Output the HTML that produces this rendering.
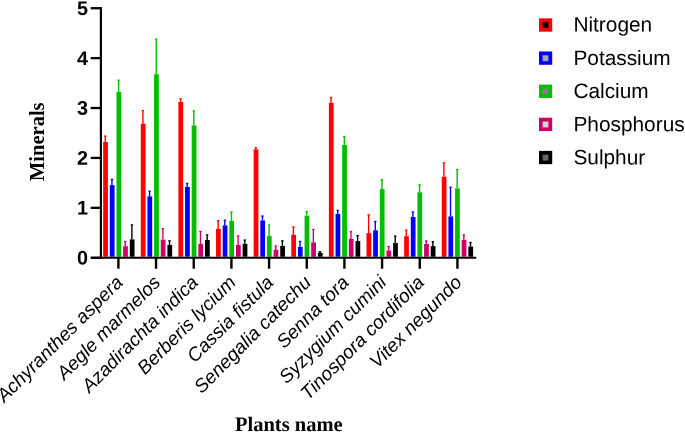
<!DOCTYPE html>
<html><head><meta charset="utf-8"><title>Minerals chart</title>
<style>
html,body{margin:0;padding:0;background:#fff;overflow:hidden;}
svg{display:block;}
text{font-family:"Liberation Sans",Arial,sans-serif;fill:#000;}
.num{font-weight:bold;font-size:19.8px;text-anchor:end;}
.lab{font-style:italic;font-size:19px;text-anchor:end;}
.leg{font-size:20.85px;}
.ttl{font-family:"Liberation Serif","Times New Roman",serif;font-weight:bold;font-size:20.5px;text-anchor:middle;}
</style></head><body>
<svg width="685" height="433" viewBox="0 0 685 433">
<rect width="685" height="433" fill="#fff"/>

<rect x="103.17" y="142.00" width="4.75" height="114.73" fill="#ff0000"/>
<path d="M105.30 142.00V136.10" stroke="#ff0000" stroke-width="1.4" fill="none"/>
<path d="M104.10 136.10H106.50" stroke="#ff0000" stroke-width="1.3" fill="none"/>
<rect x="109.82" y="185.10" width="4.75" height="71.63" fill="#0000ff"/>
<path d="M111.95 185.10V179.40" stroke="#0000ff" stroke-width="1.4" fill="none"/>
<path d="M110.75 179.40H113.15" stroke="#0000ff" stroke-width="1.3" fill="none"/>
<rect x="116.47" y="92.00" width="4.75" height="164.73" fill="#00bf00"/>
<path d="M118.60 92.00V80.20" stroke="#00bf00" stroke-width="1.4" fill="none"/>
<path d="M117.40 80.20H119.80" stroke="#00bf00" stroke-width="1.3" fill="none"/>
<rect x="123.12" y="246.20" width="4.75" height="10.53" fill="#cc0066"/>
<path d="M125.25 246.20V241.50" stroke="#cc0066" stroke-width="1.4" fill="none"/>
<path d="M124.05 241.50H126.45" stroke="#cc0066" stroke-width="1.3" fill="none"/>
<rect x="129.78" y="239.40" width="4.75" height="17.33" fill="#000000"/>
<path d="M131.90 239.40V224.90" stroke="#000000" stroke-width="1.4" fill="none"/>
<path d="M130.70 224.90H133.10" stroke="#000000" stroke-width="1.3" fill="none"/>
<rect x="140.79" y="123.70" width="4.75" height="133.03" fill="#ff0000"/>
<path d="M142.92 123.70V110.50" stroke="#ff0000" stroke-width="1.4" fill="none"/>
<path d="M141.72 110.50H144.12" stroke="#ff0000" stroke-width="1.3" fill="none"/>
<rect x="147.44" y="196.40" width="4.75" height="60.33" fill="#0000ff"/>
<path d="M149.57 196.40V191.20" stroke="#0000ff" stroke-width="1.4" fill="none"/>
<path d="M148.37 191.20H150.77" stroke="#0000ff" stroke-width="1.3" fill="none"/>
<rect x="154.09" y="74.20" width="4.75" height="182.53" fill="#00bf00"/>
<path d="M156.22 74.20V39.10" stroke="#00bf00" stroke-width="1.4" fill="none"/>
<path d="M155.02 39.10H157.42" stroke="#00bf00" stroke-width="1.3" fill="none"/>
<rect x="160.75" y="239.60" width="4.75" height="17.13" fill="#cc0066"/>
<path d="M162.87 239.60V228.60" stroke="#cc0066" stroke-width="1.4" fill="none"/>
<path d="M161.67 228.60H164.07" stroke="#cc0066" stroke-width="1.3" fill="none"/>
<rect x="167.40" y="245.00" width="4.75" height="11.73" fill="#000000"/>
<path d="M169.52 245.00V240.80" stroke="#000000" stroke-width="1.4" fill="none"/>
<path d="M168.32 240.80H170.72" stroke="#000000" stroke-width="1.3" fill="none"/>
<rect x="178.41" y="101.90" width="4.75" height="154.83" fill="#ff0000"/>
<path d="M180.54 101.90V98.90" stroke="#ff0000" stroke-width="1.4" fill="none"/>
<path d="M179.34 98.90H181.74" stroke="#ff0000" stroke-width="1.3" fill="none"/>
<rect x="185.06" y="186.90" width="4.75" height="69.83" fill="#0000ff"/>
<path d="M187.19 186.90V183.50" stroke="#0000ff" stroke-width="1.4" fill="none"/>
<path d="M185.99 183.50H188.39" stroke="#0000ff" stroke-width="1.3" fill="none"/>
<rect x="191.71" y="125.40" width="4.75" height="131.33" fill="#00bf00"/>
<path d="M193.84 125.40V110.90" stroke="#00bf00" stroke-width="1.4" fill="none"/>
<path d="M192.64 110.90H195.04" stroke="#00bf00" stroke-width="1.3" fill="none"/>
<rect x="198.36" y="243.80" width="4.75" height="12.93" fill="#cc0066"/>
<path d="M200.49 243.80V231.40" stroke="#cc0066" stroke-width="1.4" fill="none"/>
<path d="M199.29 231.40H201.69" stroke="#cc0066" stroke-width="1.3" fill="none"/>
<rect x="205.01" y="240.00" width="4.75" height="16.73" fill="#000000"/>
<path d="M207.14 240.00V234.90" stroke="#000000" stroke-width="1.4" fill="none"/>
<path d="M205.94 234.90H208.34" stroke="#000000" stroke-width="1.3" fill="none"/>
<rect x="216.03" y="228.90" width="4.75" height="27.83" fill="#ff0000"/>
<path d="M218.16 228.90V220.70" stroke="#ff0000" stroke-width="1.4" fill="none"/>
<path d="M216.96 220.70H219.36" stroke="#ff0000" stroke-width="1.3" fill="none"/>
<rect x="222.68" y="225.40" width="4.75" height="31.33" fill="#0000ff"/>
<path d="M224.81 225.40V220.20" stroke="#0000ff" stroke-width="1.4" fill="none"/>
<path d="M223.61 220.20H226.01" stroke="#0000ff" stroke-width="1.3" fill="none"/>
<rect x="229.33" y="220.90" width="4.75" height="35.83" fill="#00bf00"/>
<path d="M231.46 220.90V212.00" stroke="#00bf00" stroke-width="1.4" fill="none"/>
<path d="M230.26 212.00H232.66" stroke="#00bf00" stroke-width="1.3" fill="none"/>
<rect x="235.98" y="245.00" width="4.75" height="11.73" fill="#cc0066"/>
<path d="M238.11 245.00V235.90" stroke="#cc0066" stroke-width="1.4" fill="none"/>
<path d="M236.91 235.90H239.31" stroke="#cc0066" stroke-width="1.3" fill="none"/>
<rect x="242.63" y="243.80" width="4.75" height="12.93" fill="#000000"/>
<path d="M244.76 243.80V240.10" stroke="#000000" stroke-width="1.4" fill="none"/>
<path d="M243.56 240.10H245.96" stroke="#000000" stroke-width="1.3" fill="none"/>
<rect x="253.65" y="149.40" width="4.75" height="107.33" fill="#ff0000"/>
<path d="M255.78 149.40V147.70" stroke="#ff0000" stroke-width="1.4" fill="none"/>
<path d="M254.58 147.70H256.98" stroke="#ff0000" stroke-width="1.3" fill="none"/>
<rect x="260.31" y="220.50" width="4.75" height="36.23" fill="#0000ff"/>
<path d="M262.43 220.50V216.00" stroke="#0000ff" stroke-width="1.4" fill="none"/>
<path d="M261.23 216.00H263.63" stroke="#0000ff" stroke-width="1.3" fill="none"/>
<rect x="266.95" y="236.10" width="4.75" height="20.63" fill="#00bf00"/>
<path d="M269.08 236.10V224.90" stroke="#00bf00" stroke-width="1.4" fill="none"/>
<path d="M267.88 224.90H270.28" stroke="#00bf00" stroke-width="1.3" fill="none"/>
<rect x="273.60" y="249.70" width="4.75" height="7.03" fill="#cc0066"/>
<path d="M275.73 249.70V245.90" stroke="#cc0066" stroke-width="1.4" fill="none"/>
<path d="M274.53 245.90H276.93" stroke="#cc0066" stroke-width="1.3" fill="none"/>
<rect x="280.25" y="245.90" width="4.75" height="10.83" fill="#000000"/>
<path d="M282.38 245.90V240.80" stroke="#000000" stroke-width="1.4" fill="none"/>
<path d="M281.18 240.80H283.58" stroke="#000000" stroke-width="1.3" fill="none"/>
<rect x="291.27" y="234.70" width="4.75" height="22.03" fill="#ff0000"/>
<path d="M293.40 234.70V227.00" stroke="#ff0000" stroke-width="1.4" fill="none"/>
<path d="M292.20 227.00H294.60" stroke="#ff0000" stroke-width="1.3" fill="none"/>
<rect x="297.93" y="246.90" width="4.75" height="9.83" fill="#0000ff"/>
<path d="M300.05 246.90V241.50" stroke="#0000ff" stroke-width="1.4" fill="none"/>
<path d="M298.85 241.50H301.25" stroke="#0000ff" stroke-width="1.3" fill="none"/>
<rect x="304.57" y="215.60" width="4.75" height="41.13" fill="#00bf00"/>
<path d="M306.70 215.60V211.60" stroke="#00bf00" stroke-width="1.4" fill="none"/>
<path d="M305.50 211.60H307.90" stroke="#00bf00" stroke-width="1.3" fill="none"/>
<rect x="311.22" y="242.40" width="4.75" height="14.33" fill="#cc0066"/>
<path d="M313.35 242.40V229.50" stroke="#cc0066" stroke-width="1.4" fill="none"/>
<path d="M312.15 229.50H314.55" stroke="#cc0066" stroke-width="1.3" fill="none"/>
<rect x="317.88" y="252.70" width="4.75" height="4.03" fill="#000000"/>
<path d="M320.00 252.70V251.70" stroke="#000000" stroke-width="1.4" fill="none"/>
<path d="M318.80 251.70H321.20" stroke="#000000" stroke-width="1.3" fill="none"/>
<rect x="328.89" y="102.70" width="4.75" height="154.03" fill="#ff0000"/>
<path d="M331.02 102.70V97.50" stroke="#ff0000" stroke-width="1.4" fill="none"/>
<path d="M329.82 97.50H332.22" stroke="#ff0000" stroke-width="1.3" fill="none"/>
<rect x="335.54" y="213.90" width="4.75" height="42.83" fill="#0000ff"/>
<path d="M337.67 213.90V210.40" stroke="#0000ff" stroke-width="1.4" fill="none"/>
<path d="M336.47 210.40H338.87" stroke="#0000ff" stroke-width="1.3" fill="none"/>
<rect x="342.19" y="145.00" width="4.75" height="111.73" fill="#00bf00"/>
<path d="M344.32 145.00V136.50" stroke="#00bf00" stroke-width="1.4" fill="none"/>
<path d="M343.12 136.50H345.52" stroke="#00bf00" stroke-width="1.3" fill="none"/>
<rect x="348.84" y="238.90" width="4.75" height="17.83" fill="#cc0066"/>
<path d="M350.97 238.90V231.60" stroke="#cc0066" stroke-width="1.4" fill="none"/>
<path d="M349.77 231.60H352.17" stroke="#cc0066" stroke-width="1.3" fill="none"/>
<rect x="355.49" y="241.00" width="4.75" height="15.73" fill="#000000"/>
<path d="M357.62 241.00V235.60" stroke="#000000" stroke-width="1.4" fill="none"/>
<path d="M356.42 235.60H358.82" stroke="#000000" stroke-width="1.3" fill="none"/>
<rect x="366.51" y="233.10" width="4.75" height="23.63" fill="#ff0000"/>
<path d="M368.64 233.10V214.90" stroke="#ff0000" stroke-width="1.4" fill="none"/>
<path d="M367.44 214.90H369.84" stroke="#ff0000" stroke-width="1.3" fill="none"/>
<rect x="373.16" y="230.30" width="4.75" height="26.43" fill="#0000ff"/>
<path d="M375.29 230.30V221.50" stroke="#0000ff" stroke-width="1.4" fill="none"/>
<path d="M374.09 221.50H376.49" stroke="#0000ff" stroke-width="1.3" fill="none"/>
<rect x="379.81" y="189.10" width="4.75" height="67.63" fill="#00bf00"/>
<path d="M381.94 189.10V179.80" stroke="#00bf00" stroke-width="1.4" fill="none"/>
<path d="M380.74 179.80H383.14" stroke="#00bf00" stroke-width="1.3" fill="none"/>
<rect x="386.46" y="250.50" width="4.75" height="6.23" fill="#cc0066"/>
<path d="M388.59 250.50V246.50" stroke="#cc0066" stroke-width="1.4" fill="none"/>
<path d="M387.39 246.50H389.79" stroke="#cc0066" stroke-width="1.3" fill="none"/>
<rect x="393.11" y="243.10" width="4.75" height="13.63" fill="#000000"/>
<path d="M395.24 243.10V236.10" stroke="#000000" stroke-width="1.4" fill="none"/>
<path d="M394.04 236.10H396.44" stroke="#000000" stroke-width="1.3" fill="none"/>
<rect x="404.13" y="236.20" width="4.75" height="20.53" fill="#ff0000"/>
<path d="M406.26 236.20V230.10" stroke="#ff0000" stroke-width="1.4" fill="none"/>
<path d="M405.06 230.10H407.46" stroke="#ff0000" stroke-width="1.3" fill="none"/>
<rect x="410.78" y="217.00" width="4.75" height="39.73" fill="#0000ff"/>
<path d="M412.91 217.00V211.90" stroke="#0000ff" stroke-width="1.4" fill="none"/>
<path d="M411.71 211.90H414.11" stroke="#0000ff" stroke-width="1.3" fill="none"/>
<rect x="417.43" y="192.30" width="4.75" height="64.43" fill="#00bf00"/>
<path d="M419.56 192.30V184.90" stroke="#00bf00" stroke-width="1.4" fill="none"/>
<path d="M418.36 184.90H420.76" stroke="#00bf00" stroke-width="1.3" fill="none"/>
<rect x="424.08" y="244.00" width="4.75" height="12.73" fill="#cc0066"/>
<path d="M426.21 244.00V240.90" stroke="#cc0066" stroke-width="1.4" fill="none"/>
<path d="M425.01 240.90H427.41" stroke="#cc0066" stroke-width="1.3" fill="none"/>
<rect x="430.73" y="246.10" width="4.75" height="10.63" fill="#000000"/>
<path d="M432.86 246.10V241.70" stroke="#000000" stroke-width="1.4" fill="none"/>
<path d="M431.66 241.70H434.06" stroke="#000000" stroke-width="1.3" fill="none"/>
<rect x="441.75" y="176.60" width="4.75" height="80.13" fill="#ff0000"/>
<path d="M443.88 176.60V162.90" stroke="#ff0000" stroke-width="1.4" fill="none"/>
<path d="M442.68 162.90H445.08" stroke="#ff0000" stroke-width="1.3" fill="none"/>
<rect x="448.40" y="216.40" width="4.75" height="40.33" fill="#0000ff"/>
<path d="M450.53 216.40V187.20" stroke="#0000ff" stroke-width="1.4" fill="none"/>
<path d="M449.33 187.20H451.73" stroke="#0000ff" stroke-width="1.3" fill="none"/>
<rect x="455.05" y="188.40" width="4.75" height="68.33" fill="#00bf00"/>
<path d="M457.18 188.40V169.60" stroke="#00bf00" stroke-width="1.4" fill="none"/>
<path d="M455.98 169.60H458.38" stroke="#00bf00" stroke-width="1.3" fill="none"/>
<rect x="461.70" y="239.80" width="4.75" height="16.93" fill="#cc0066"/>
<path d="M463.83 239.80V234.80" stroke="#cc0066" stroke-width="1.4" fill="none"/>
<path d="M462.63 234.80H465.03" stroke="#cc0066" stroke-width="1.3" fill="none"/>
<rect x="468.35" y="246.50" width="4.75" height="10.23" fill="#000000"/>
<path d="M470.48 246.50V242.50" stroke="#000000" stroke-width="1.4" fill="none"/>
<path d="M469.28 242.50H471.68" stroke="#000000" stroke-width="1.3" fill="none"/>
<path d="M100.9 7.05V258.73" stroke="#000" stroke-width="2.2" fill="none"/>
<path d="M99.8 257.73H476.3" stroke="#000" stroke-width="2.1" fill="none"/>
<path d="M90.7 257.73H101" stroke="#000" stroke-width="2.5" fill="none"/>
<text class="num" transform="translate(87.9 264.53) rotate(0.03)">0</text>
<path d="M90.7 207.83H101" stroke="#000" stroke-width="2.3" fill="none"/>
<text class="num" transform="translate(87.9 214.63) rotate(0.03)">1</text>
<path d="M90.7 157.93H101" stroke="#000" stroke-width="2.3" fill="none"/>
<text class="num" transform="translate(87.9 164.73) rotate(0.03)">2</text>
<path d="M90.7 108.03H101" stroke="#000" stroke-width="2.3" fill="none"/>
<text class="num" transform="translate(87.9 114.83) rotate(0.03)">3</text>
<path d="M90.7 58.13H101" stroke="#000" stroke-width="2.3" fill="none"/>
<text class="num" transform="translate(87.9 64.93) rotate(0.03)">4</text>
<path d="M90.7 8.23H101" stroke="#000" stroke-width="2.3" fill="none"/>
<text class="num" transform="translate(87.9 15.03) rotate(0.03)">5</text>
<path d="M118.40 257.73V268.7" stroke="#000" stroke-width="2.4" fill="none"/>
<text class="lab" transform="translate(123.90 283.60) rotate(-45)">Achyranthes aspera</text>
<path d="M156.07 257.73V268.7" stroke="#000" stroke-width="2.4" fill="none"/>
<text class="lab" transform="translate(161.57 283.60) rotate(-45)">Aegle marmelos</text>
<path d="M193.74 257.73V268.7" stroke="#000" stroke-width="2.4" fill="none"/>
<text class="lab" transform="translate(199.24 283.60) rotate(-45)">Azadirachta indica</text>
<path d="M231.41 257.73V268.7" stroke="#000" stroke-width="2.4" fill="none"/>
<text class="lab" transform="translate(236.91 283.60) rotate(-45)">Berberis lycium</text>
<path d="M269.08 257.73V268.7" stroke="#000" stroke-width="2.4" fill="none"/>
<text class="lab" transform="translate(274.58 283.60) rotate(-45)">Cassia fistula</text>
<path d="M306.75 257.73V268.7" stroke="#000" stroke-width="2.4" fill="none"/>
<text class="lab" transform="translate(312.25 283.60) rotate(-45)">Senegalia catechu</text>
<path d="M344.42 257.73V268.7" stroke="#000" stroke-width="2.4" fill="none"/>
<text class="lab" transform="translate(349.92 283.60) rotate(-45)">Senna tora</text>
<path d="M382.09 257.73V268.7" stroke="#000" stroke-width="2.4" fill="none"/>
<text class="lab" transform="translate(387.59 283.60) rotate(-45)">Syzygium cumini</text>
<path d="M419.76 257.73V268.7" stroke="#000" stroke-width="2.4" fill="none"/>
<text class="lab" transform="translate(425.26 283.60) rotate(-45)">Tinospora cordifolia</text>
<path d="M457.43 257.73V268.7" stroke="#000" stroke-width="2.4" fill="none"/>
<text class="lab" transform="translate(462.93 283.60) rotate(-45)">Vitex negundo</text>
<text class="ttl" transform="translate(43.8 141.7) rotate(-90)">Minerals</text>
<text class="ttl" transform="translate(288.8 431.1) rotate(0.03)">Plants name</text>
<rect x="539" y="18.35" width="13.2" height="13.3" fill="#ff0000"/>
<rect x="542.6" y="22.15" width="5.8" height="5.9" fill="#000000"/>
<text class="leg" transform="translate(573.4 31.45) rotate(0.03)">Nitrogen</text>
<rect x="539" y="51.48" width="13.2" height="13.3" fill="#0000ff"/>
<rect x="542.6" y="55.28" width="5.8" height="5.9" fill="#a8a8a8"/>
<text class="leg" transform="translate(573.4 65.05) rotate(0.03)">Potassium</text>
<rect x="539" y="84.61" width="13.2" height="13.3" fill="#00bf00"/>
<rect x="542.6" y="88.41" width="5.8" height="5.9" fill="#808080"/>
<text class="leg" transform="translate(573.4 98.05) rotate(0.03)">Calcium</text>
<rect x="539" y="117.74" width="13.2" height="13.3" fill="#cc0066"/>
<rect x="542.6" y="121.54" width="5.8" height="5.9" fill="#d4d4d4"/>
<text class="leg" transform="translate(573.4 131.30) rotate(0.03)">Phosphorus</text>
<rect x="539" y="150.87" width="13.2" height="13.3" fill="#000000"/>
<rect x="542.6" y="154.67" width="5.8" height="5.9" fill="#666666"/>
<text class="leg" transform="translate(573.4 164.35) rotate(0.03)">Sulphur</text>
</svg></body></html>
